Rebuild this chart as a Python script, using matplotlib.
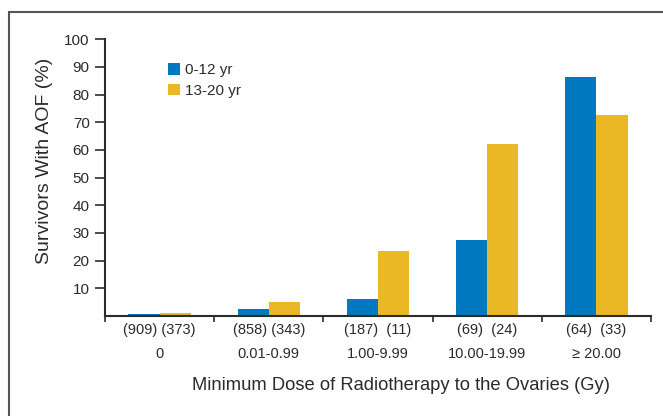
import matplotlib
matplotlib.use("Agg")
import matplotlib.pyplot as plt
from matplotlib.patches import Rectangle
import numpy as np

plt.rcParams['font.family'] = ['Liberation Sans Narrow', 'Liberation Sans', 'DejaVu Sans']

doses = ["0", "0.01-0.99", "1.00-9.99", "10.00-19.99", "\u2265 20.00"]
counts = ["(909) (373)", "(858) (343)", "(187)  (11)", "(69)  (24)", "(64)  (33)"]
young = [0.7, 2.6, 6.2, 27.5, 86.5]    # 0-12 yr
older = [1.2, 5.2, 23.6, 62.0, 72.6]   # 13-20 yr

blue = "#0079C1"
yellow = "#E9B824"
dark = "#2b2b2b"

fig = plt.figure(figsize=(6.63, 4.16), dpi=100)
ax = fig.add_axes([105 / 663, 1 - 316 / 416, 546 / 663, 276.7 / 416])

x = np.arange(len(doses))
w = 0.286
ax.bar(x - w / 2, young, w, color=blue, label="0-12 yr")
ax.bar(x + w / 2, older, w, color=yellow, label="13-20 yr")

ax.set_xlim(-0.5, 4.5)
ax.set_ylim(0, 100)
ax.set_yticks(np.arange(10, 101, 10))
ax.tick_params(axis='y', length=7, width=1.2, color=dark, labelsize=11, pad=4, labelcolor=dark)

ax.set_xticks(x)
ax.set_xticklabels([c + "\n" + d for c, d in zip(counts, doses)], linespacing=1.9)
ax.set_xticks(np.arange(-0.5, 4.6, 1), minor=True)
ax.tick_params(axis='x', which='major', length=0, labelsize=10.5, pad=5, labelcolor=dark)
ax.tick_params(axis='x', which='minor', length=4, width=1.2, color=dark)

for s in ["top", "right"]:
    ax.spines[s].set_visible(False)
for s in ["left", "bottom"]:
    ax.spines[s].set_color(dark)
    ax.spines[s].set_linewidth(1.5)

leg = ax.legend(loc="upper left", bbox_to_anchor=(0.105, 0.935), frameon=False,
                fontsize=11, handlelength=0.75, handleheight=0.75,
                handletextpad=0.35, labelspacing=0.4, borderaxespad=0)
for t in leg.get_texts():
    t.set_color(dark)

fig.text(45 / 663, 1 - 161 / 416, "Survivors With AOF (%)", rotation=90,
         ha="center", va="center", fontsize=14, color=dark)
fig.text(401 / 663, 1 - 386 / 416, "Minimum Dose of Radiotherapy to the Ovaries (Gy)",
         ha="center", va="center", fontsize=13.2, color=dark)

# outer frame
fig.add_artist(Rectangle((9 / 663, -0.1), 1.2, 1 - 12 / 416 + 0.1,
                         transform=fig.transFigure, fill=False,
                         edgecolor="#555555", linewidth=1.5))

fig.savefig("out.png", dpi=100)
